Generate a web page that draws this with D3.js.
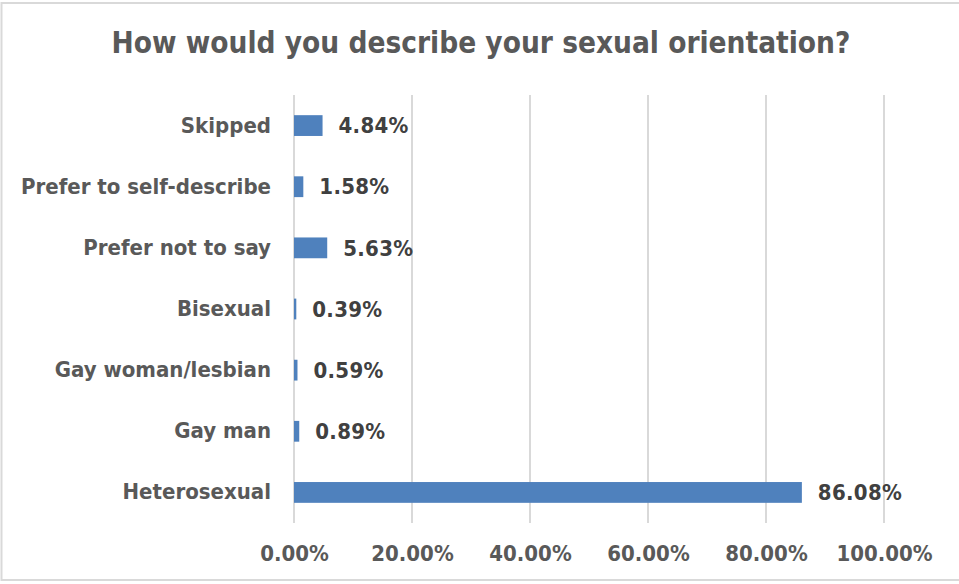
<!DOCTYPE html>
<html>
<head>
<meta charset="utf-8">
<script src="https://cdn.jsdelivr.net/npm/d3@7"></script>
<style>
  html, body { margin: 0; padding: 0; background: #fff; }
  svg { display: block; }
</style>
</head>
<body>
<svg id="chart" width="959" height="584"></svg>
<script>
// Survey responses, top to bottom as drawn
const categories = ["Skipped", "Prefer to self-describe", "Prefer not to say", "Bisexual", "Gay woman/lesbian", "Gay man", "Heterosexual"];
const values = [4.84, 1.58, 5.63, 0.39, 0.59, 0.89, 86.08];
const tickValues = [0, 20, 40, 60, 80, 100];
const title = "How would you describe your sexual orientation?";

const W = 959, H = 584;
const svg = d3.select("#chart");
const font = "'DejaVu Sans Condensed', 'DejaVu Sans', sans-serif";

// chart frame
svg.append("rect")
  .attr("x", 1.5).attr("y", 3).attr("width", W + 2).attr("height", 577)
  .attr("fill", "#fff").attr("stroke", "#d9d9d9").attr("stroke-width", 2);

const plot = { left: 294, right: 884, top: 95, bottom: 523 };

const x = d3.scaleLinear().domain([0, 100]).range([plot.left, plot.right]);
const y = d3.scaleBand().domain(categories).range([plot.top, plot.bottom]).paddingInner(0.66).paddingOuter(0.33);

// vertical gridlines
svg.append("g").selectAll("line").data(tickValues).join("line")
  .attr("x1", d => x(d)).attr("x2", d => x(d))
  .attr("y1", plot.top).attr("y2", plot.bottom)
  .attr("stroke", "#d9d9d9").attr("stroke-width", 2);

// bars
const rows = categories.map((c, i) => ({ c, v: values[i] }));
svg.append("g").selectAll("rect").data(rows).join("rect")
  .attr("x", x(0))
  .attr("y", d => y(d.c))
  .attr("width", d => Math.max(0, x(d.v) - x(0)))
  .attr("height", y.bandwidth())
  .attr("fill", "#4f81bd");

// value labels
svg.append("g").selectAll("text").data(rows).join("text")
  .attr("x", d => x(d.v) + 16)
  .attr("y", d => y(d.c) + y.bandwidth() / 2)
  .attr("dy", "0.35em")
  .attr("font-family", font).attr("font-weight", "bold").attr("font-size", 22)
  .attr("letter-spacing", 0.3)
  .attr("fill", "#404040")
  .text(d => d.v.toFixed(2) + "%");

// category axis
const yAxis = d3.axisLeft(y).tickSize(0).tickPadding(23);
svg.append("g").attr("transform", `translate(${plot.left},0)`).call(yAxis)
  .call(g => g.select(".domain").remove())
  .selectAll("text")
  .attr("font-family", font).attr("font-weight", "bold").attr("font-size", 22)
  .attr("fill", "#595959");

// value axis
const xAxis = d3.axisBottom(x).tickValues(tickValues).tickSize(0).tickPadding(22)
  .tickFormat(d => d.toFixed(2) + "%");
svg.append("g").attr("transform", `translate(0,${plot.bottom})`).call(xAxis)
  .call(g => g.select(".domain").remove())
  .selectAll("text")
  .attr("font-family", font).attr("font-weight", "bold").attr("font-size", 22)
  .attr("fill", "#595959");

// title
svg.append("text")
  .attr("x", 481).attr("y", 53)
  .attr("text-anchor", "middle")
  .attr("font-family", font).attr("font-weight", "bold").attr("font-size", 29.5)
  .attr("fill", "#595959")
  .text(title);
</script>
</body>
</html>
